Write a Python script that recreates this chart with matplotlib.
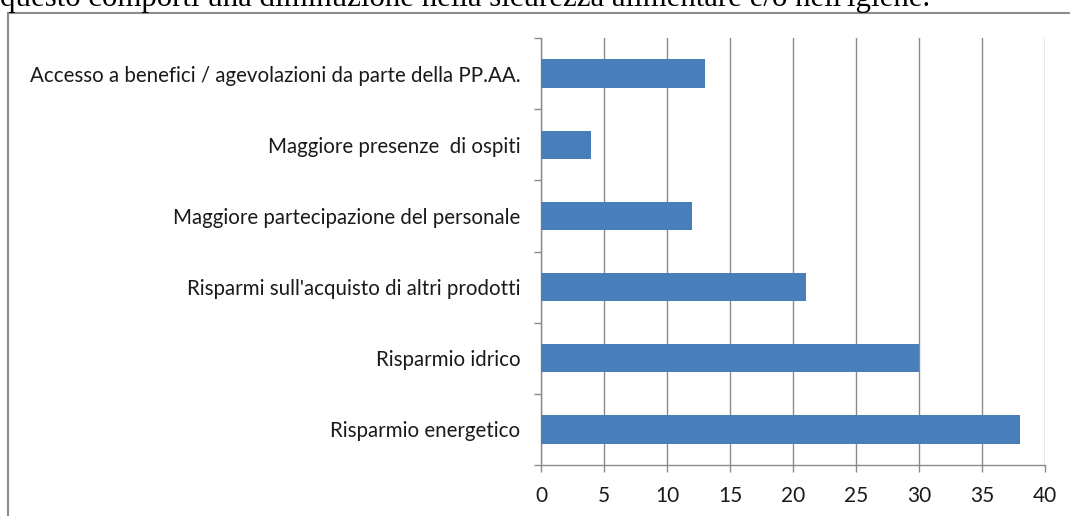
import matplotlib
matplotlib.use("Agg")
import matplotlib.pyplot as plt
from matplotlib.patches import Rectangle
import numpy as np

# data, bottom to top as drawn
categories = [
    "Risparmio energetico",
    "Risparmio idrico",
    "Risparmi sull'acquisto di altri prodotti",
    "Maggiore partecipazione del personale",
    "Maggiore presenze  di ospiti",
    "Accesso a benefici / agevolazioni da parte della PP.AA.",
]
values = [38, 30, 21, 12, 4, 13]
x_ticks = [0, 5, 10, 15, 20, 25, 30, 35, 40]

W, H = 1070, 516
fig = plt.figure(figsize=(W / 100, H / 100), dpi=100)

# cut-off line of text above the chart
fig.text(0, 1 - 6 / H, "questo comporti una diminuzione nella sicurezza alimentare e/o nell'igiene.",
         family="Liberation Serif", fontsize=22.2, va="baseline", ha="left", color="black")

# outer chart frame (runs off the right and bottom edges)
frame = Rectangle((8 / W, -0.1), 1.2, 1 - 13 / H + 0.1, transform=fig.transFigure,
                  fill=False, edgecolor="#8c8c8c", lw=1.5, clip_on=False)
fig.patches.append(frame)

ax = fig.add_axes([541 / W, 1 - 465 / H, (1045 - 541) / W, (465 - 38) / H])
y = np.arange(len(categories))
ax.barh(y, values, height=0.4, color="#4a7ebb", zorder=3)

ax.set_xlim(0, 40)
ax.set_ylim(-0.5, len(categories) - 0.5)
ax.set_xticks(x_ticks)
ax.set_xticklabels([str(v) for v in x_ticks])
ax.set_yticks(y)
ax.set_yticklabels(categories)
ax.set_yticks(np.arange(-0.5, len(categories)), minor=True)

ax.grid(axis="x", color="#8a8a8a", lw=1, zorder=0)
for s in ["top", "right"]:
    ax.spines[s].set_visible(False)
for s in ["left", "bottom"]:
    ax.spines[s].set_color("#8a8a8a")
    ax.spines[s].set_linewidth(1)

ax.tick_params(axis="y", which="major", length=0, pad=15, labelsize=14.8)
ax.tick_params(axis="y", which="minor", length=5, color="#8a8a8a", width=1)
ax.tick_params(axis="x", length=5, color="#8a8a8a", width=1, pad=10, labelsize=15)
for lab in ax.get_xticklabels() + ax.get_yticklabels():
    lab.set_family("Lato")
    lab.set_color("#1a1a1a")

fig.savefig("out.png", dpi=100)
